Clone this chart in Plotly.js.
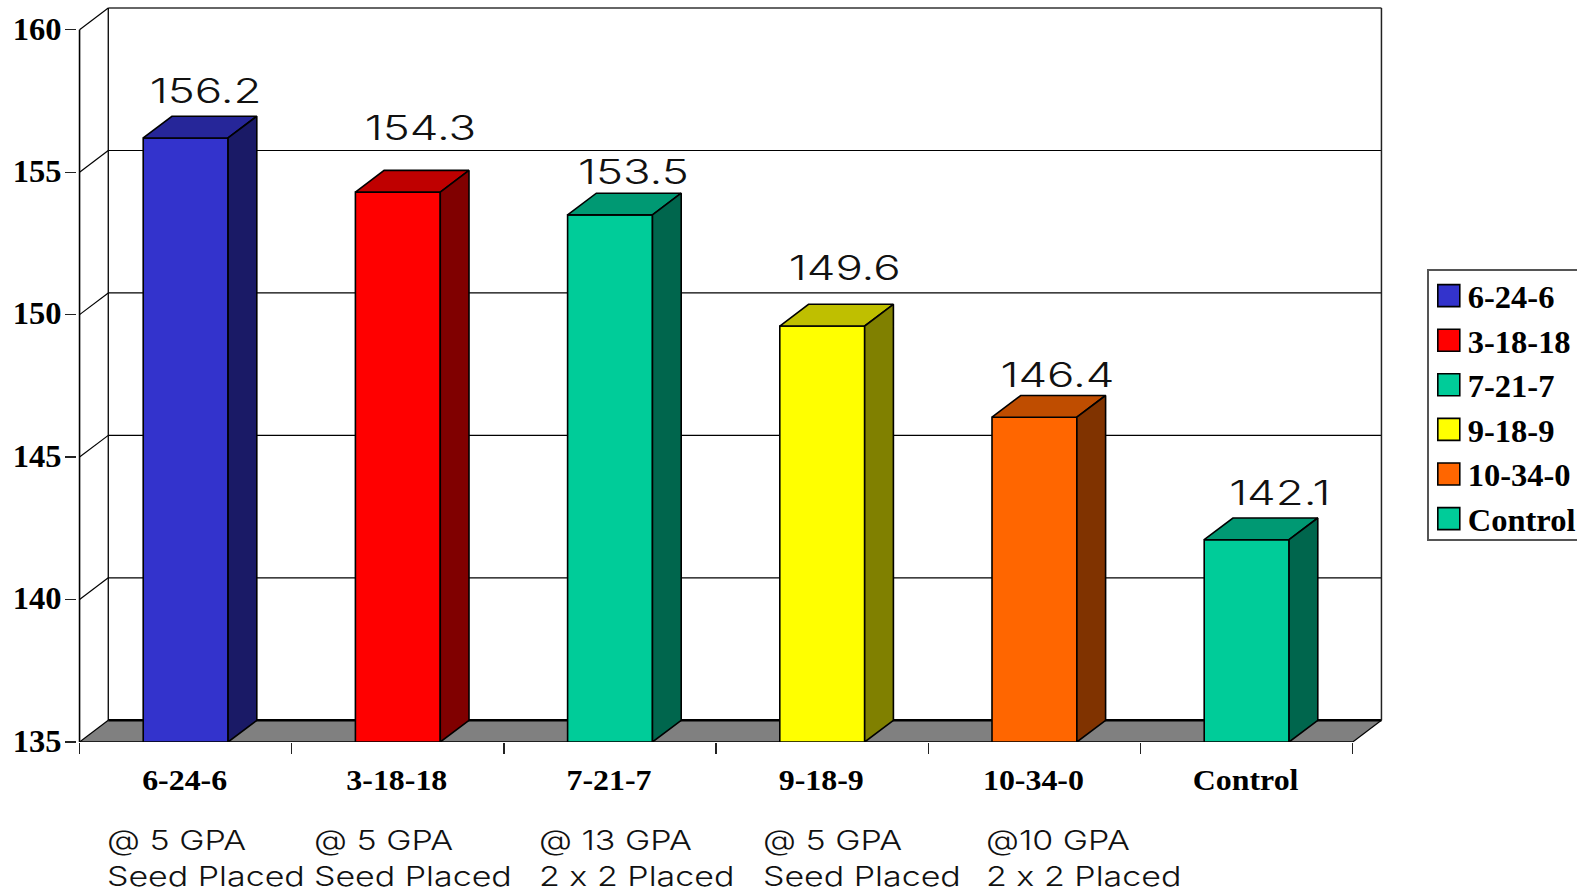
<!DOCTYPE html>
<html><head><meta charset="utf-8">
<script src="https://cdn.plot.ly/plotly-3.0.1.min.js"></script>
<style>html,body{margin:0;padding:0;background:#fff;overflow:hidden;width:1577px;height:889px}
.annotation text{font-feature-settings:"calt" 0,"liga" 0;font-variant-ligatures:none}</style>
</head><body><div id="chart"></div>
<script>
// ---- data ----
const categories = ['6-24-6','3-18-18','7-21-7','9-18-9','10-34-0','Control'];
const values = [156.2,154.3,153.5,149.6,146.4,142.1];
const subLabels = ['@ 5 GPA<br>Seed Placed','@ 5 GPA<br>Seed Placed','@ 13 GPA<br>2 x 2 Placed','@ 5 GPA<br>Seed Placed','@10 GPA<br>2 x 2 Placed'];
const yTicks = [135,140,145,150,155,160];
// ---- colours ----
const frontColors = ['#3333cc','#ff0000','#00cc99','#ffff00','#ff6600','#00cc99'];
const topColors   = ['#262699','#bf0000','#009973','#bfbf00','#bf4d00','#009973'];
const sideColors  = ['#1a1a66','#800000','#00664d','#808000','#803300','#00664d'];
// ---- geometry ----
const W=1600,H=889, x0Px=80, yBasePx=742, catPx=212.05, unitPx=28.48;
const depthX=28.7/catPx, depthY=21.7/unitPx, barW=0.4;
const yMin=135,yMax=160, nCat=categories.length;
const padX=0.012, padTopPx=1;
const xRange=[-padX,nCat+depthX+padX];
const yRange=[yMin,yMax+depthY+padTopPx/unitPx];
const mL=x0Px-padX*catPx, plotW=(xRange[1]-xRange[0])*catPx;
const plotH=(yRange[1]-yRange[0])*unitPx, mT=yBasePx-plotH;
const pxToX=p=>(p-x0Px)/catPx;
const labelShift=[[20,25],[23,42],[23,21],[23,36],[23,20],[33,25]]; // px offset of value labels above bar front
const subLeftPx=[105,312,537,761,984];
const centers=categories.map((_,i)=>i+0.5);
const edge={color:'#000',width:1.6};

const traces=[];
// front faces
categories.forEach((c,i)=>traces.push({type:'bar',name:c,x:[centers[i]],y:[values[i]],width:barW,
  marker:{color:frontColors[i],line:{color:'#000',width:1.6}},showlegend:true,hoverinfo:'x+y'}));
// top and side faces, derived from the values
categories.forEach((c,i)=>{
  const l=centers[i]-barW/2,r=centers[i]+barW/2,v=values[i];
  traces.push({type:'scatter',mode:'lines',x:[l,r,r+depthX,l+depthX,l],y:[v,v,v+depthY,v+depthY,v],
    fill:'toself',fillcolor:topColors[i],line:edge,showlegend:false,hoverinfo:'skip',cliponaxis:false});
  traces.push({type:'scatter',mode:'lines',x:[r,r+depthX,r+depthX,r,r],y:[yMin,yMin+depthY,v+depthY,v,yMin],
    fill:'toself',fillcolor:sideColors[i],line:edge,showlegend:false,hoverinfo:'skip',cliponaxis:false});
});
// floor front edge
traces.push({type:'scatter',mode:'lines',x:[0,nCat],y:[yMin,yMin],line:{color:'#000',width:1.6},showlegend:false,hoverinfo:'skip',cliponaxis:false});

// wall, floor and gridlines go below the bars
const ln=(x1,y1,x2,y2,w,c)=>({type:'line',xref:'x',yref:'y',layer:'below',x0:x1,y0:y1,x1:x2,y1:y2,line:{color:c||'#000',width:w||1.2}});
const shapes=[];
shapes.push({type:'path',xref:'x',yref:'y',layer:'below',
  path:`M0,${yMin}L${nCat},${yMin}L${nCat+depthX},${yMin+depthY}L${depthX},${yMin+depthY}Z`,fillcolor:'#808080',line:{width:0}});
yTicks.forEach(t=>{
  shapes.push(ln(0,t,depthX,t+depthY,1.2));
  shapes.push(ln(depthX,t+depthY,nCat+depthX,t+depthY,t===yMin?2.4:(t===yMax?1.6:1.1),t===yMax?'#333':'#000'));
});
shapes.push(ln(0,yMin,0,yMax,1.6));
shapes.push(ln(depthX,yMin+depthY,depthX,yMax+depthY,1.3));
shapes.push(ln(nCat+depthX,yMin+depthY,nCat+depthX,yMax+depthY,1.5,'#222'));
shapes.push(ln(nCat,yMin,nCat+depthX,yMin+depthY,1.2));

const lightSans='Inter,"Liberation Sans",Arial,sans-serif';
const annotations=[];
values.forEach((v,i)=>annotations.push({xref:'x',yref:'y',x:centers[i],y:v,xanchor:'center',yanchor:'bottom',
  xshift:labelShift[i][0],yshift:labelShift[i][1],text:v.toFixed(1),showarrow:false,
  font:{family:lightSans,size:34,color:'#111',weight:300}}));
subLabels.forEach((s,i)=>annotations.push({xref:'x',yref:'paper',x:pxToX(subLeftPx[i]),y:0,yshift:-79,
  xanchor:'left',yanchor:'top',align:'left',text:s,showarrow:false,
  font:{family:lightSans,size:27.5,color:'#111',weight:300}}));

const serif='"Liberation Serif","Times New Roman",serif';
const layout={width:W,height:H,paper_bgcolor:'#fff',plot_bgcolor:'#fff',showlegend:true,barmode:'overlay',
  margin:{l:mL,t:mT,r:W-mL-plotW,b:H-yBasePx,pad:0,autoexpand:false},
  xaxis:{range:xRange,showgrid:false,zeroline:false,showline:false,tickmode:'array',tickvals:centers,ticktext:categories,
    ticks:'',ticklen:0,ticklabelstandoff:18,tickangle:0,tickfont:{family:serif,size:29,color:'#000',weight:'bold'},
    minor:{tickmode:'array',tickvals:[0,1,2,3,4,5,6],ticks:'outside',ticklen:11,tickwidth:1.4,tickcolor:'#222',showgrid:false},automargin:false},
  yaxis:{range:yRange,showgrid:false,zeroline:false,showline:false,tickmode:'array',tickvals:yTicks,ticktext:yTicks.map(String),
    ticks:'outside',ticklen:11,tickwidth:1.3,tickcolor:'#222',tickfont:{family:serif,size:31,color:'#000',weight:'bold'},automargin:false},
  legend:{xref:'container',yref:'container',x:1427/W,y:1-269/H,xanchor:'left',yanchor:'top',bgcolor:'#fff',bordercolor:'#555',borderwidth:1.8,
    font:{family:serif,size:32,color:'#000',weight:'bold'},traceorder:'normal',entrywidth:150,entrywidthmode:'pixels',itemclick:false},
  shapes,annotations};

function stretch(el,f,anchor,dx,dy){
  const b=el.getBBox(), ox=anchor==='left'?b.x:b.x+b.width/2, t=el.getAttribute('transform')||'';
  el.setAttribute('transform',`${t} translate(${ox+(dx||0)},${dy||0}) scale(${f},1) translate(${-ox},0)`);
}
Plotly.newPlot('chart',traces,layout,{displayModeBar:false,staticPlot:true}).then(gd=>{
  gd.querySelectorAll('.xtick text').forEach(el=>stretch(el,1.1,'center',-1,0));
  gd.querySelectorAll('.ytick text').forEach(el=>stretch(el,1.05,'center',1.5,-1));
  gd.querySelectorAll('.annotation').forEach(g=>{
    const idx=+g.getAttribute('data-index'), el=g.querySelector('text');
    if(idx<values.length) stretch(el,1.34,'center'); else stretch(el,1.235,'left');
  });
  gd.querySelectorAll('.legendpoints path').forEach(p=>{
    const t=p.getAttribute('transform')||'';
    p.setAttribute('transform',t+' scale(1.83)');
    p.style.vectorEffect='non-scaling-stroke';
  });
  gd.querySelectorAll('.legendtext').forEach(el=>stretch(el,1.015,'left',-1,0));
  const bg=gd.querySelector('.legend rect.bg');
  bg.setAttribute('height',+bg.getAttribute('height')-10);
  const sb=gd.querySelector('.legend .scrollbox');
  sb.setAttribute('transform',(sb.getAttribute('transform')||'')+' translate(0,-2.5)');
});
</script></body></html>
